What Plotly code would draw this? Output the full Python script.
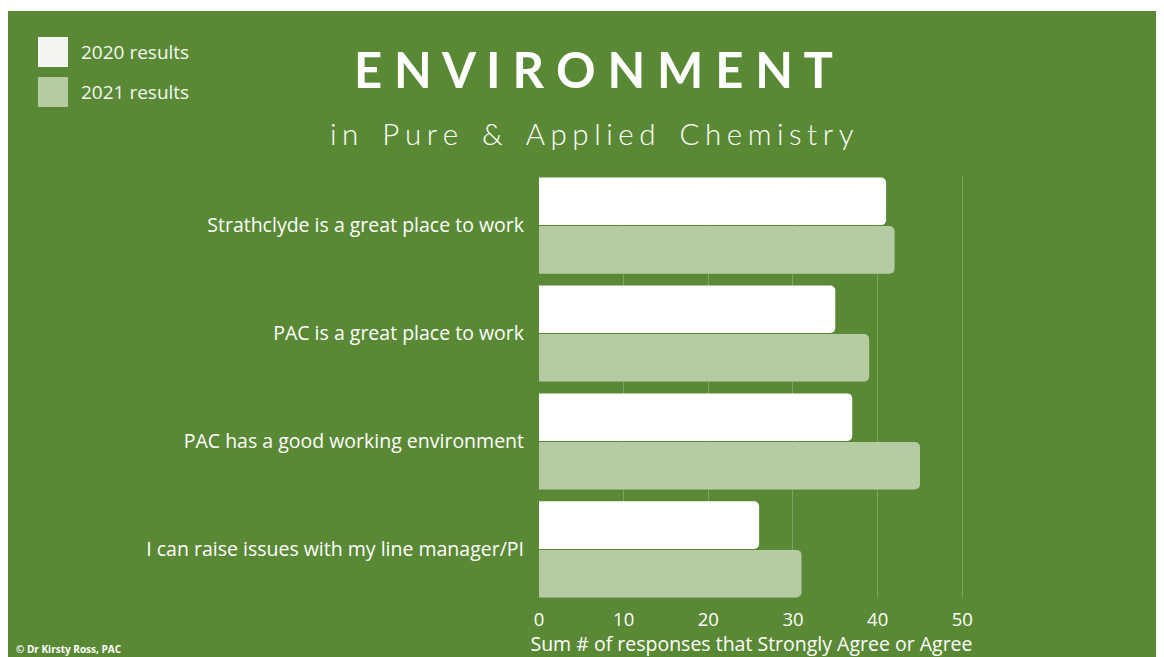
import plotly.graph_objects as go

categories = [
    "Strathclyde is a great place to work",
    "PAC is a great place to work",
    "PAC has a good working environment",
    "I can raise issues with my line manager/PI",
]
series_names = ["2020 results", "2021 results"]
values_2020 = [41, 35, 37, 26]
values_2021 = [42, 39, 45, 31]
x_ticks = [0, 10, 20, 30, 40, 50]

GREEN = "#5a8935"
C2020 = "#ffffff"
C2021 = "#b5cba4"
FONT = "Open Sans"

# page offset of the plotly div (body margin)
OX, OY = 8, 8
W, H = 1164 - OX, 657 - OY
L, R, T, B = 539 - OX, 964 - OX, 177 - OY, 598 - OY


def px(x):  # x in page pixels -> paper
    return (x - OX - L) / (R - L)


def py(y):  # y in page pixels -> paper
    return (B - (y - OY)) / (B - T)


fig = go.Figure()
fig.add_trace(go.Bar(y=categories, x=values_2020, name=series_names[0], orientation="h",
                     marker=dict(color=C2020, cornerradius=5, line=dict(width=0))))
fig.add_trace(go.Bar(y=categories, x=values_2021, name=series_names[1], orientation="h",
                     marker=dict(color=C2021, cornerradius=5, line=dict(width=0))))

shapes = [
    # thin white strip at the top
    dict(type="rect", xref="paper", yref="paper", x0=px(0), x1=px(1200), y0=py(11), y1=py(0),
         fillcolor="white", line_width=0, layer="below"),
    # legend swatches
    dict(type="rect", xref="paper", yref="paper", x0=px(38), x1=px(68), y0=py(67), y1=py(37),
         fillcolor="#f3f6f0", line_width=0),
    dict(type="rect", xref="paper", yref="paper", x0=px(38), x1=px(68), y0=py(107), y1=py(77),
         fillcolor=C2021, line_width=0),
]

sub = "&nbsp;&nbsp;&nbsp;".join("\u2009\u200a".join(w) for w in ["in", "Pure", "&", "Applied", "Chemistry"])

annotations = [
    dict(text=series_names[0], x=px(79), y=py(52), xref="paper", yref="paper", xanchor="left",
         yanchor="middle", showarrow=False, font=dict(family=FONT, size=19, color="#f4f7f1")),
    dict(text=series_names[1], x=px(79), y=py(92), xref="paper", yref="paper", xanchor="left",
         yanchor="middle", showarrow=False, font=dict(family=FONT, size=19, color="#f4f7f1")),
    dict(text="E N V I R O N M E N T", x=px(593), y=py(69), xref="paper", yref="paper",
         xanchor="center", yanchor="middle", showarrow=False,
         font=dict(family="Lato", size=49, color="white", weight="bold")),
    dict(text=sub, x=px(592), y=py(133), xref="paper", yref="paper",
         xanchor="center", yanchor="middle", showarrow=False,
         font=dict(family="Lato", size=29.5, color="white", weight=300)),
    dict(text="<b>© Dr Kirsty Ross, PAC</b>", x=px(14), y=py(649), xref="paper", yref="paper",
         xanchor="left", yanchor="middle", showarrow=False,
         font=dict(family=FONT, size=10, color="white")),
]

fig.update_layout(
    width=W, height=H,
    margin=dict(l=L, r=W - R, t=T, b=H - B, pad=0, autoexpand=False),
    paper_bgcolor=GREEN, plot_bgcolor="rgba(0,0,0,0)",
    barmode="group", bargap=0.1, bargroupgap=0.02,
    showlegend=False,
    shapes=shapes, annotations=annotations,
    font=dict(family=FONT, color="white"),
    xaxis=dict(range=[0, 50.2], tickvals=x_ticks, showgrid=True, automargin=False,
               gridcolor="rgba(255,255,255,0.22)", gridwidth=1, zeroline=False,
               tickfont=dict(family=FONT, size=18.5, color="white"),
               ticklabelstandoff=8,
               title=dict(text="Sum # of responses that Strongly Agree or Agree",
                          font=dict(family=FONT, size=19.5, color="white"), standoff=0),
               showline=False),
    yaxis=dict(categoryorder="array", categoryarray=categories, range=[3.45, -0.45],
               automargin=False,
               tickfont=dict(family=FONT, size=19.5, color="white"),
               ticklabelstandoff=14, showgrid=False, zeroline=False, showline=False),
)

fig.write_html("out.html")
